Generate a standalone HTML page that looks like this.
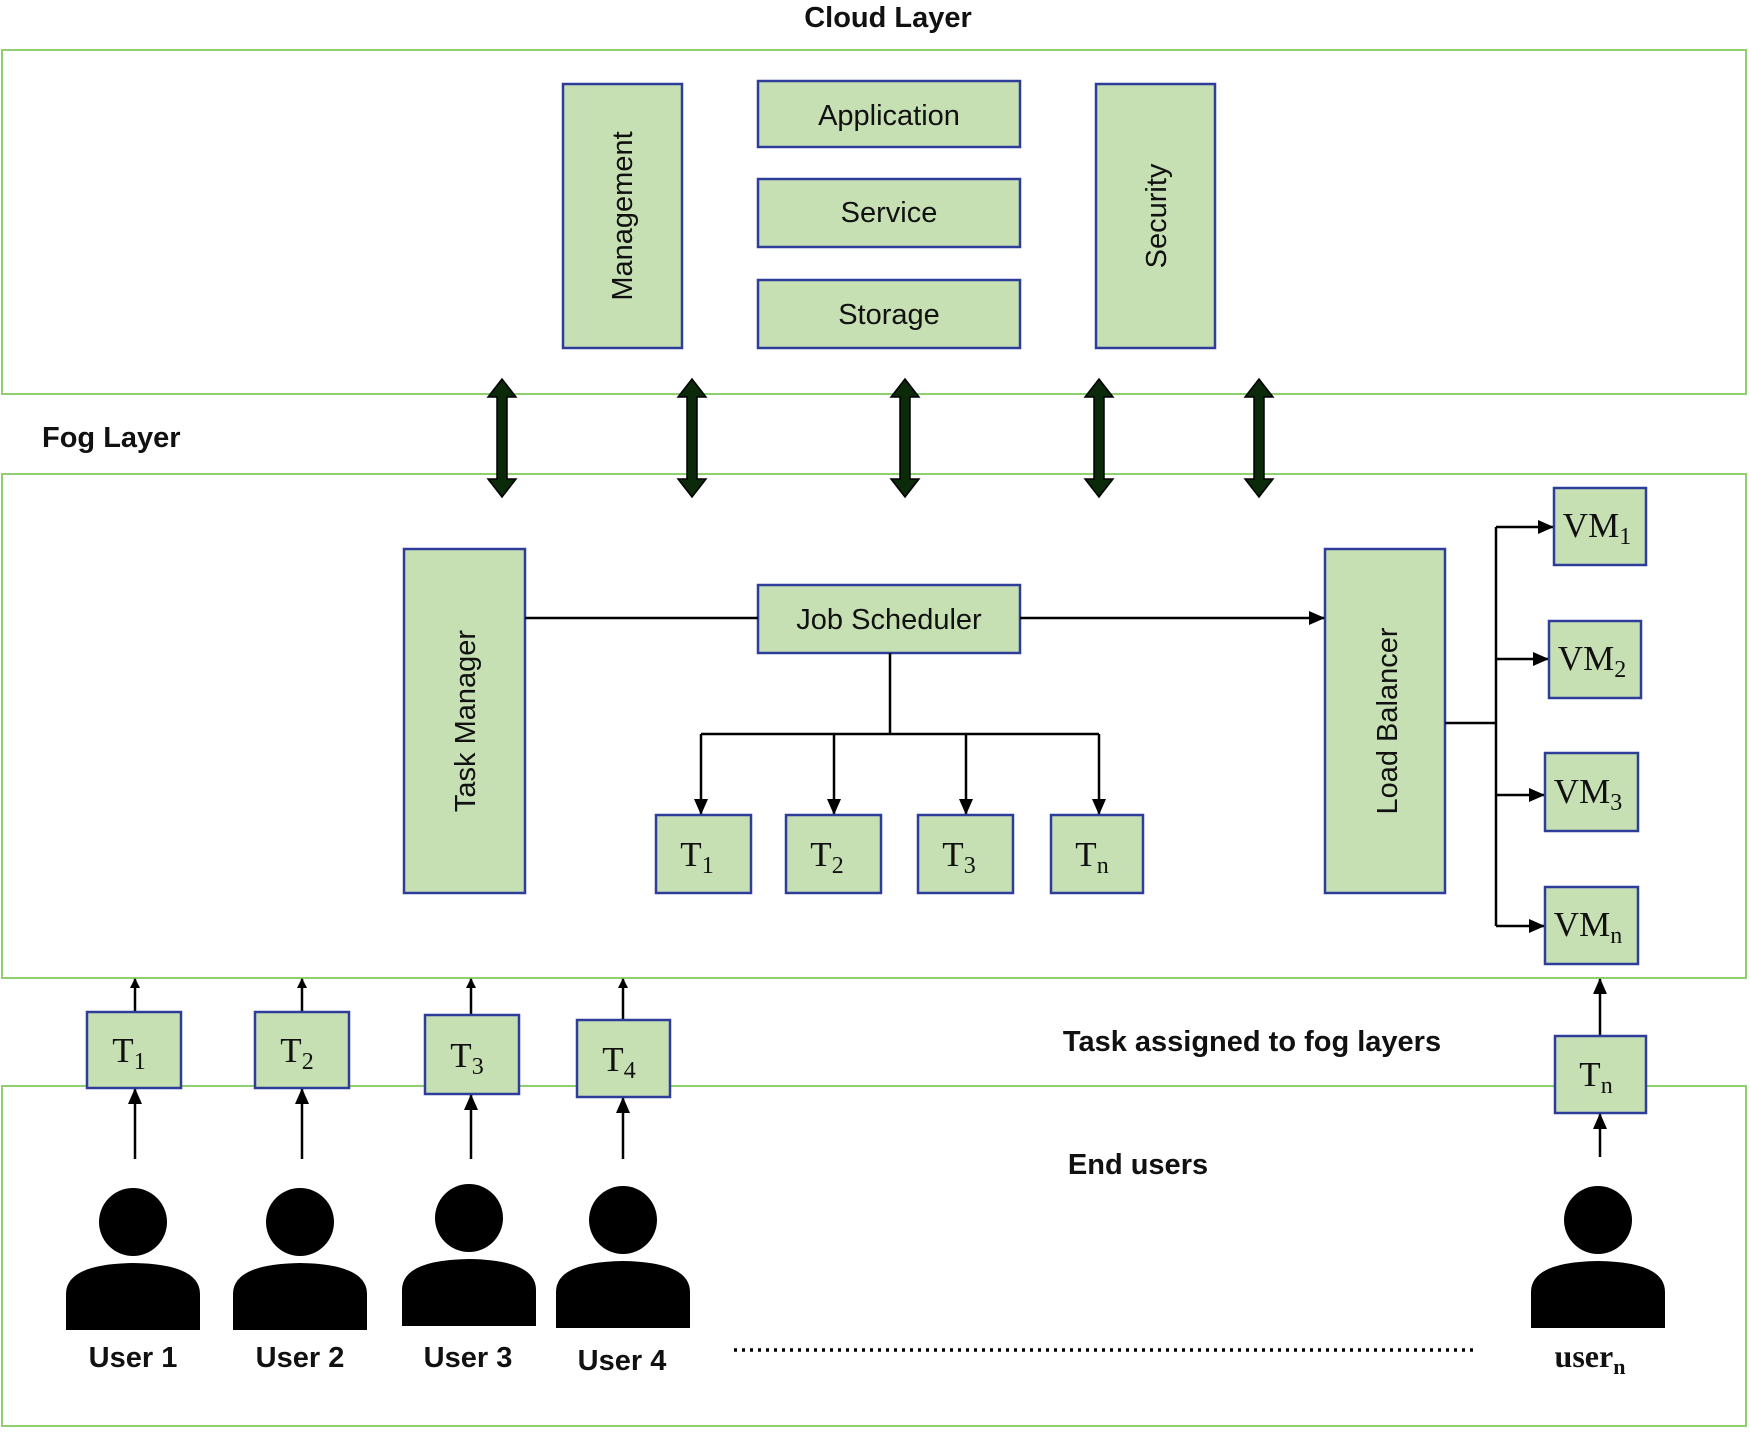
<!DOCTYPE html>
<html><head><meta charset="utf-8"><style>
html,body{margin:0;padding:0;background:#fff}
svg{display:block}
.s{font-family:"Liberation Sans",sans-serif;fill:#111}
.r{font-family:"Liberation Serif",serif;fill:#111}
.b{fill:#c6e0b4;stroke:#2e3d99;stroke-width:2.5}
.g{fill:none;stroke:#8fcf6f;stroke-width:2}
.l{stroke:#000;stroke-width:2.5;fill:none}
</style></head><body>
<svg width="1750" height="1432" viewBox="0 0 1750 1432" xmlns="http://www.w3.org/2000/svg">
<defs>
<marker id="a" markerWidth="10" markerHeight="10" refX="9" refY="5" orient="auto" markerUnits="userSpaceOnUse"><path d="M0,0 L10,5 L0,10 z" fill="#000"/></marker>
<marker id="a2" markerWidth="16" markerHeight="14" refX="15" refY="7" orient="auto" markerUnits="userSpaceOnUse"><path d="M0,0 L16,7 L0,14 z" fill="#000"/></marker>
</defs>
<text x="888" y="27" text-anchor="middle" class="s" font-size="29" font-weight="bold">Cloud Layer</text>
<rect x="2" y="50" width="1744" height="344" class="g"/>
<text x="42" y="447" class="s" font-size="29" font-weight="bold">Fog Layer</text>
<rect x="2" y="474" width="1744" height="504" class="g"/>
<rect x="2" y="1086" width="1744" height="340" class="g"/>

<rect x="563" y="84" width="119" height="264" class="b"/>
<text transform="translate(632,216) rotate(-90)" text-anchor="middle" class="s" font-size="29">Management</text>
<rect x="758" y="81" width="262" height="66" class="b"/>
<text x="889" y="125" text-anchor="middle" class="s" font-size="29">Application</text>
<rect x="758" y="179" width="262" height="68" class="b"/>
<text x="889" y="222" text-anchor="middle" class="s" font-size="29">Service</text>
<rect x="758" y="280" width="262" height="68" class="b"/>
<text x="889" y="324" text-anchor="middle" class="s" font-size="29">Storage</text>
<rect x="1096" y="84" width="119" height="264" class="b"/>
<text transform="translate(1166,216) rotate(-90)" text-anchor="middle" class="s" font-size="29">Security</text>

<g fill="#0a2a0a" stroke="#000" stroke-width="1.5">
<path d="M502,379 l-14,18 h9 v82 h-9 l14,18 l14,-18 h-9 v-82 h9 z"/>
<path d="M692,379 l-14,18 h9 v82 h-9 l14,18 l14,-18 h-9 v-82 h9 z"/>
<path d="M905,379 l-14,18 h9 v82 h-9 l14,18 l14,-18 h-9 v-82 h9 z"/>
<path d="M1099,379 l-14,18 h9 v82 h-9 l14,18 l14,-18 h-9 v-82 h9 z"/>
<path d="M1259,379 l-14,18 h9 v82 h-9 l14,18 l14,-18 h-9 v-82 h9 z"/>
</g>

<rect x="404" y="549" width="121" height="344" class="b"/>
<text transform="translate(475,721) rotate(-90)" text-anchor="middle" class="s" font-size="29">Task Manager</text>
<rect x="758" y="585" width="262" height="68" class="b"/>
<text x="889" y="629" text-anchor="middle" class="s" font-size="29">Job Scheduler</text>
<rect x="1325" y="549" width="120" height="344" class="b"/>
<text transform="translate(1397,721) rotate(-90)" text-anchor="middle" class="s" font-size="29">Load Balancer</text>
<line x1="525" y1="618" x2="758" y2="618" class="l"/>
<line x1="1020" y1="618" x2="1324" y2="618" class="l" marker-end="url(#a2)"/>
<path d="M890,653 V734 M701,734 H1099" class="l"/>
<line x1="701" y1="734" x2="701" y2="814" class="l" marker-end="url(#a2)"/>
<line x1="834" y1="734" x2="834" y2="814" class="l" marker-end="url(#a2)"/>
<line x1="966" y1="734" x2="966" y2="814" class="l" marker-end="url(#a2)"/>
<line x1="1099" y1="734" x2="1099" y2="814" class="l" marker-end="url(#a2)"/>
<rect x="656" y="815" width="95" height="78" class="b"/><text x="697" y="866" text-anchor="middle" class="r" font-size="35">T<tspan font-size="24" dy="7">1</tspan></text>
<rect x="786" y="815" width="95" height="78" class="b"/><text x="827" y="866" text-anchor="middle" class="r" font-size="35">T<tspan font-size="24" dy="7">2</tspan></text>
<rect x="918" y="815" width="95" height="78" class="b"/><text x="959" y="866" text-anchor="middle" class="r" font-size="35">T<tspan font-size="24" dy="7">3</tspan></text>
<rect x="1051" y="815" width="92" height="78" class="b"/><text x="1092" y="866" text-anchor="middle" class="r" font-size="35">T<tspan font-size="24" dy="7">n</tspan></text>

<path d="M1445,723 H1496 M1496,527 V926" class="l"/>
<line x1="1496" y1="527" x2="1553" y2="527" class="l" marker-end="url(#a2)"/>
<line x1="1496" y1="659" x2="1548" y2="659" class="l" marker-end="url(#a2)"/>
<line x1="1496" y1="795" x2="1544" y2="795" class="l" marker-end="url(#a2)"/>
<line x1="1496" y1="926" x2="1544" y2="926" class="l" marker-end="url(#a2)"/>
<rect x="1554" y="488" width="92" height="77" class="b"/><text x="1597" y="537" text-anchor="middle" class="r" font-size="35">VM<tspan font-size="24" dy="7">1</tspan></text>
<rect x="1549" y="621" width="92" height="77" class="b"/><text x="1592" y="670" text-anchor="middle" class="r" font-size="35">VM<tspan font-size="24" dy="7">2</tspan></text>
<rect x="1545" y="753" width="93" height="78" class="b"/><text x="1588" y="803" text-anchor="middle" class="r" font-size="35">VM<tspan font-size="24" dy="7">3</tspan></text>
<rect x="1545" y="887" width="93" height="77" class="b"/><text x="1588" y="936" text-anchor="middle" class="r" font-size="35">VM<tspan font-size="24" dy="7">n</tspan></text>

<g>
<line x1="135" y1="1012" x2="135" y2="979" class="l" stroke-width="2" marker-end="url(#a)"/>
<line x1="302" y1="1012" x2="302" y2="979" class="l" stroke-width="2" marker-end="url(#a)"/>
<line x1="471" y1="1015" x2="471" y2="979" class="l" stroke-width="2" marker-end="url(#a)"/>
<line x1="623" y1="1020" x2="623" y2="979" class="l" stroke-width="2" marker-end="url(#a)"/>
<line x1="1600" y1="1036" x2="1600" y2="979" class="l" stroke-width="2" marker-end="url(#a2)"/>
<line x1="135" y1="1159" x2="135" y2="1089" class="l" stroke-width="2" marker-end="url(#a2)"/>
<line x1="302" y1="1159" x2="302" y2="1089" class="l" stroke-width="2" marker-end="url(#a2)"/>
<line x1="471" y1="1159" x2="471" y2="1095" class="l" stroke-width="2" marker-end="url(#a2)"/>
<line x1="623" y1="1159" x2="623" y2="1098" class="l" stroke-width="2" marker-end="url(#a2)"/>
<line x1="1600" y1="1157" x2="1600" y2="1114" class="l" stroke-width="2" marker-end="url(#a2)"/>
</g>
<rect x="87" y="1012" width="94" height="76" class="b"/><text x="129" y="1062" text-anchor="middle" class="r" font-size="35">T<tspan font-size="24" dy="7">1</tspan></text>
<rect x="255" y="1012" width="94" height="76" class="b"/><text x="297" y="1062" text-anchor="middle" class="r" font-size="35">T<tspan font-size="24" dy="7">2</tspan></text>
<rect x="425" y="1015" width="94" height="79" class="b"/><text x="467" y="1067" text-anchor="middle" class="r" font-size="35">T<tspan font-size="24" dy="7">3</tspan></text>
<rect x="577" y="1020" width="93" height="77" class="b"/><text x="619" y="1071" text-anchor="middle" class="r" font-size="35">T<tspan font-size="24" dy="7">4</tspan></text>
<rect x="1555" y="1036" width="91" height="77" class="b"/><text x="1596" y="1086" text-anchor="middle" class="r" font-size="35">T<tspan font-size="24" dy="7">n</tspan></text>
<text x="1252" y="1051" text-anchor="middle" class="s" font-size="29" font-weight="bold">Task assigned to fog layers</text>
<text x="1138" y="1174" text-anchor="middle" class="s" font-size="29" font-weight="bold">End users</text>

<defs>
<g id="u">
<circle cx="0" cy="0" r="34" fill="#000"/>
<path d="M-67,108 V72 Q-67,42 0,41 Q67,42 67,72 V108 Z" fill="#000"/>
</g>
</defs>
<use href="#u" x="133" y="1222"/>
<use href="#u" x="300" y="1222"/>
<use href="#u" x="469" y="1218"/>
<use href="#u" x="623" y="1220"/>
<use href="#u" x="1598" y="1220"/>
<text x="133" y="1367" text-anchor="middle" class="s" font-size="29" font-weight="bold">User 1</text>
<text x="300" y="1367" text-anchor="middle" class="s" font-size="29" font-weight="bold">User 2</text>
<text x="468" y="1367" text-anchor="middle" class="s" font-size="29" font-weight="bold">User 3</text>
<text x="622" y="1370" text-anchor="middle" class="s" font-size="29" font-weight="bold">User 4</text>
<text x="1590" y="1367" text-anchor="middle" class="r" font-size="32" font-weight="bold">user<tspan font-size="22" dy="7">n</tspan></text>
<line x1="734" y1="1350" x2="1477" y2="1350" stroke="#000" stroke-width="3.5" stroke-dasharray="3,5"/>
</svg>
</body></html>
